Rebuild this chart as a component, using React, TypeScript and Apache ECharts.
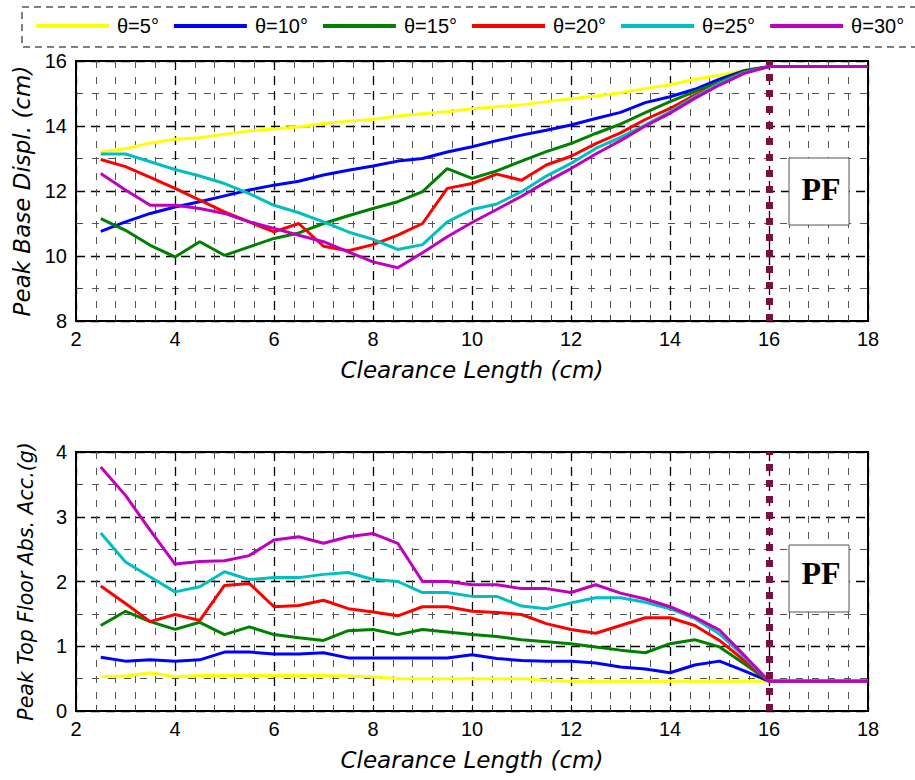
import React, { useEffect, useRef } from "react";
import * as echarts from "echarts";

const clearance = [2.5, 3, 3.5, 4, 4.5, 5, 5.5, 6, 6.5, 7, 7.5, 8, 8.5, 9, 9.5, 10, 10.5, 11, 11.5, 12, 12.5, 13, 13.5, 14, 14.5, 15, 15.5, 16, 18];

const seriesNames = ["θ=5°", "θ=10°", "θ=15°", "θ=20°", "θ=25°", "θ=30°"];
const seriesColors = ["#ffff00", "#0000ff", "#008000", "#ff0000", "#00bfbf", "#bf00bf"];

// Peak base displacement (cm)
const disp5 = [13.21, 13.30, 13.48, 13.59, 13.64, 13.75, 13.85, 13.91, 13.98, 14.08, 14.15, 14.20, 14.31, 14.38, 14.44, 14.53, 14.59, 14.65, 14.75, 14.84, 14.92, 15.02, 15.15, 15.27, 15.44, 15.56, 15.72, 15.83, 15.83];
const disp10 = [10.76, 11.05, 11.31, 11.51, 11.67, 11.85, 12.03, 12.18, 12.30, 12.49, 12.64, 12.77, 12.92, 13.00, 13.20, 13.36, 13.55, 13.72, 13.87, 14.03, 14.23, 14.42, 14.72, 14.90, 15.13, 15.44, 15.70, 15.83, 15.83];
const disp15 = [11.15, 10.79, 10.33, 9.97, 10.44, 10.02, 10.28, 10.54, 10.71, 11.00, 11.24, 11.46, 11.67, 11.98, 12.69, 12.39, 12.62, 12.92, 13.21, 13.46, 13.77, 14.06, 14.41, 14.75, 15.06, 15.36, 15.67, 15.83, 15.83];
const disp20 = [12.97, 12.75, 12.42, 12.08, 11.72, 11.36, 11.05, 10.74, 11.00, 10.30, 10.16, 10.35, 10.64, 11.00, 12.08, 12.23, 12.52, 12.33, 12.80, 13.07, 13.46, 13.79, 14.20, 14.54, 14.95, 15.31, 15.64, 15.83, 15.83];
const disp25 = [13.14, 13.14, 12.90, 12.66, 12.46, 12.23, 11.92, 11.56, 11.33, 11.05, 10.74, 10.51, 10.20, 10.35, 11.05, 11.43, 11.60, 11.98, 12.46, 12.85, 13.31, 13.65, 14.03, 14.44, 14.90, 15.31, 15.64, 15.83, 15.83];
const disp30 = [12.54, 12.03, 11.56, 11.56, 11.46, 11.31, 11.05, 10.85, 10.64, 10.44, 10.13, 9.82, 9.64, 10.10, 10.59, 11.03, 11.43, 11.84, 12.28, 12.69, 13.14, 13.55, 14.00, 14.39, 14.85, 15.26, 15.62, 15.83, 15.83];

// Peak top floor absolute acceleration (g)
const acc5 = [0.53, 0.54, 0.59, 0.53, 0.55, 0.55, 0.55, 0.55, 0.55, 0.55, 0.54, 0.53, 0.50, 0.50, 0.50, 0.50, 0.50, 0.50, 0.47, 0.46, 0.46, 0.46, 0.46, 0.46, 0.46, 0.46, 0.46, 0.46, 0.46];
const acc10 = [0.83, 0.77, 0.79, 0.77, 0.79, 0.91, 0.91, 0.88, 0.88, 0.90, 0.82, 0.82, 0.82, 0.82, 0.82, 0.87, 0.81, 0.78, 0.77, 0.77, 0.74, 0.68, 0.65, 0.59, 0.71, 0.77, 0.62, 0.46, 0.46];
const acc15 = [1.32, 1.54, 1.38, 1.26, 1.37, 1.18, 1.30, 1.18, 1.13, 1.09, 1.24, 1.26, 1.18, 1.26, 1.22, 1.18, 1.15, 1.10, 1.07, 1.04, 0.99, 0.94, 0.90, 1.04, 1.10, 0.99, 0.73, 0.46, 0.46];
const acc20 = [1.93, 1.66, 1.38, 1.49, 1.40, 1.94, 1.97, 1.61, 1.63, 1.71, 1.58, 1.53, 1.47, 1.61, 1.61, 1.54, 1.52, 1.49, 1.35, 1.26, 1.20, 1.32, 1.44, 1.44, 1.32, 1.09, 0.78, 0.46, 0.46];
const acc25 = [2.75, 2.30, 2.07, 1.84, 1.92, 2.15, 2.03, 2.06, 2.06, 2.11, 2.14, 2.03, 2.00, 1.83, 1.83, 1.77, 1.77, 1.62, 1.58, 1.67, 1.75, 1.75, 1.68, 1.58, 1.43, 1.19, 0.84, 0.46, 0.46];
const acc30 = [3.77, 3.33, 2.79, 2.27, 2.31, 2.32, 2.40, 2.64, 2.69, 2.59, 2.69, 2.74, 2.59, 2.00, 2.00, 1.95, 1.95, 1.89, 1.89, 1.83, 1.95, 1.82, 1.73, 1.61, 1.45, 1.25, 0.86, 0.46, 0.46];

const dispSeries = [disp5, disp10, disp15, disp20, disp25, disp30];
const accSeries = [acc5, acc10, acc15, acc20, acc25, acc30];

const pfClearance = 16;
const xTicks = { min: 2, max: 18, interval: 2 };
const dispTicks = { min: 8, max: 16, interval: 2 };
const accTicks = { min: 0, max: 4, interval: 1 };

const tickFont = "'Liberation Sans', Arial, sans-serif";
const nameFont = "'DejaVu Sans', 'Liberation Sans', sans-serif";

function xAxis(gridIndex: number) {
  return {
    type: "value",
    gridIndex,
    min: xTicks.min,
    max: xTicks.max,
    interval: xTicks.interval,
    name: "Clearance Length (cm)",
    nameLocation: "middle",
    nameGap: 37,
    nameTextStyle: { fontFamily: nameFont, fontStyle: "italic", fontSize: 23, color: "#000" },
    axisLine: { show: true, onZero: false, lineStyle: { color: "#000", width: 2 } },
    axisTick: { show: true, inside: true, length: 6, lineStyle: { color: "#000" } },
    minorTick: { show: true, splitNumber: 5, length: 6, lineStyle: { color: "#444" } },
    axisLabel: { fontFamily: tickFont, fontSize: 20, color: "#000", margin: 8 },
    splitLine: { show: true, lineStyle: { color: "#000", width: 1.3, type: [9, 6] } },
    minorSplitLine: { show: true, lineStyle: { color: "#555", width: 1, type: [7, 9] } },
  };
}

function yAxis(gridIndex: number, t: { min: number; max: number; interval: number }, name: string, fontSize: number) {
  return {
    type: "value",
    gridIndex,
    min: t.min,
    max: t.max,
    interval: t.interval,
    name,
    nameLocation: "middle",
    nameGap: 40,
    nameTextStyle: { fontFamily: nameFont, fontStyle: "italic", fontSize, color: "#000" },
    axisLine: { show: true, onZero: false, lineStyle: { color: "#000", width: 2 } },
    axisTick: { show: true, inside: true, length: 6, lineStyle: { color: "#000" } },
    minorTick: { show: true, splitNumber: 2, length: 6, lineStyle: { color: "#444" } },
    axisLabel: { fontFamily: tickFont, fontSize: 20, color: "#000", margin: 9 },
    splitLine: { show: true, lineStyle: { color: "#000", width: 1.3, type: [9, 6] } },
    minorSplitLine: { show: true, lineStyle: { color: "#555", width: 1, type: [7, 9] } },
  };
}

function buildSeries(values: number[][], gridIndex: number) {
  return values.map((arr, i) => {
    const s: any = {
      name: seriesNames[i],
      type: "line",
      xAxisIndex: gridIndex,
      yAxisIndex: gridIndex,
      data: clearance.map((x, j) => [x, arr[j]]),
      showSymbol: false,
      symbol: "none",
      color: seriesColors[i],
      lineStyle: { color: seriesColors[i], width: 3 },
      z: 3 + i,
    };
    if (i === values.length - 1) {
      s.markLine = {
        silent: true,
        symbol: ["none", "none"],
        label: { show: false },
        lineStyle: { color: "#7a1040", width: 7, type: [7, 9] },
        data: [{ xAxis: pfClearance }],
        z: 20,
      };
    }
    return s;
  });
}

export default function App() {
  const ref = useRef<HTMLDivElement>(null);
  useEffect(() => {
    if (!ref.current) return;
    const chart = echarts.init(ref.current, undefined, { renderer: "svg" });
    const option: any = {
      animation: false,
      backgroundColor: "#fff",
      legend: {
        left: 36,
        top: 16,
        width: 900,
        padding: 0,
        icon: "rect",
        itemWidth: 73,
        itemHeight: 4,
        itemGap: 15,
        data: seriesNames,
        textStyle: { fontFamily: "'Liberation Sans', Arial, sans-serif", fontSize: 20, color: "#000", padding: [0, 0, 0, 3] },
      },
      grid: [
        { left: 76, top: 61, width: 792, height: 260, show: true, borderColor: "#000", borderWidth: 2, backgroundColor: "transparent" },
        { left: 76, top: 452, width: 792, height: 259, show: true, borderColor: "#000", borderWidth: 2, backgroundColor: "transparent" },
      ],
      xAxis: [xAxis(0), xAxis(1)],
      yAxis: [
        yAxis(0, dispTicks, "Peak Base Displ. (cm)", 23),
        yAxis(1, accTicks, "Peak Top Floor Abs. Acc.(g)", 20.5),
      ],
      series: [...buildSeries(dispSeries, 0), ...buildSeries(accSeries, 1)],
      graphic: [
        {
          type: "rect",
          shape: { x: 22, y: 7, width: 920, height: 40 },
          style: { fill: "none", stroke: "#000", lineWidth: 1, lineDash: [7, 5] },
          silent: true,
        },
        {
          type: "rect",
          shape: { x: 789, y: 158, width: 60, height: 67 },
          style: { fill: "#fff", stroke: "#555", lineWidth: 1 },
          z: 50,
        },
        {
          type: "text",
          x: 821,
          y: 189,
          style: { text: "PF", fontFamily: "'Liberation Serif', 'Times New Roman', serif", fontWeight: "bold", fontSize: 32, fill: "#000", align: "center", verticalAlign: "middle" },
          z: 51,
        },
        {
          type: "rect",
          shape: { x: 789, y: 545, width: 60, height: 67 },
          style: { fill: "#fff", stroke: "#555", lineWidth: 1 },
          z: 50,
        },
        {
          type: "text",
          x: 821,
          y: 573,
          style: { text: "PF", fontFamily: "'Liberation Serif', 'Times New Roman', serif", fontWeight: "bold", fontSize: 32, fill: "#000", align: "center", verticalAlign: "middle" },
          z: 51,
        },
      ],
    };
    chart.setOption(option);
    return () => chart.dispose();
  }, []);
  return <div ref={ref} style={{ position: "fixed", left: 0, top: 0, width: 915, height: 780 }} />;
}
